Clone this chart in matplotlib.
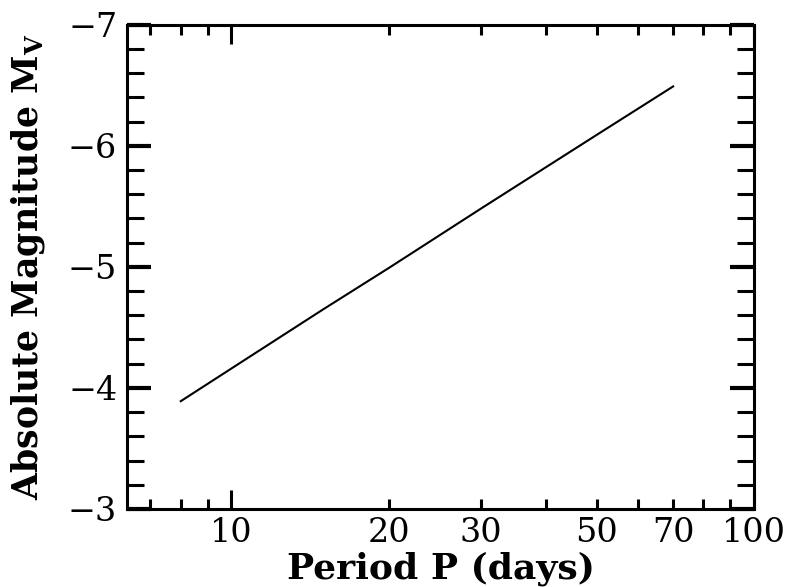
import matplotlib
matplotlib.use("Agg")
import matplotlib.pyplot as plt
from matplotlib.ticker import FixedLocator, FixedFormatter, NullFormatter

# ────── Data ──────

period_days = [8.0, 10.0, 15.0, 20.0, 30.0, 50.0, 70.0]
abs_mag_v   = [-3.89, -4.16, -4.65, -4.99, -5.48, -6.09, -6.49]

x_major       = [10, 100]
x_minor       = [7, 8, 9, 20, 30, 40, 50, 60, 70, 80, 90]
x_minor_label = ["", "", "", "20", "30", "", "50", "", "70", "", ""]
y_major       = [-7, -6, -5, -4, -3]
y_minor       = [-6.8, -6.6, -6.4, -6.2, -5.8, -5.6, -5.4, -5.2,
                 -4.8, -4.6, -4.4, -4.2, -3.8, -3.6, -3.4, -3.2]

# ────── Style ──────

plt.rcParams["font.family"] = ["DejaVu Serif"]
plt.rcParams["mathtext.default"] = "regular"
plt.rcParams["axes.labelweight"] = "bold"

fig = plt.figure(figsize=(7.93, 5.87), dpi=100)
ax = fig.add_axes([0.160, 0.133, 0.791, 0.825])

ax.plot(period_days, abs_mag_v, color="black", lw=1.5)

ax.set_xscale("log")
ax.set_xlim(10 ** 0.8, 100)
ax.set_ylim(-3, -7)

for s in ax.spines.values():
    s.set_linewidth(2.2)

ax.xaxis.set_major_locator(FixedLocator(x_major))
ax.xaxis.set_major_formatter(FixedFormatter(["10", "100"]))
ax.xaxis.set_minor_locator(FixedLocator(x_minor))
ax.xaxis.set_minor_formatter(FixedFormatter(x_minor_label))

ax.yaxis.set_major_locator(FixedLocator(y_major))
ax.yaxis.set_minor_locator(FixedLocator(y_minor))
ax.yaxis.set_minor_formatter(NullFormatter())

ax.tick_params(axis="x", which="both", direction="in", top=True,
               labelsize=24, pad=6)
ax.tick_params(axis="x", which="major", length=14, width=2.2)
ax.tick_params(axis="x", which="minor", length=7.5, width=2.2)
ax.tick_params(axis="y", which="both", direction="in", right=True,
               labelsize=24, pad=7)
ax.tick_params(axis="y", which="major", length=17, width=3)
ax.tick_params(axis="y", which="minor", length=12, width=2.2)

ax.set_xlabel("Period P (days)", fontsize=26, va="top")
ax.xaxis.set_label_coords(0.5, -0.088)
ax.set_ylabel(r"Absolute Magnitude $M_V$", fontsize=25)
ax.yaxis.set_label_coords(-0.128, 0.5)

fig.savefig("out.png", dpi=100, facecolor="white")
